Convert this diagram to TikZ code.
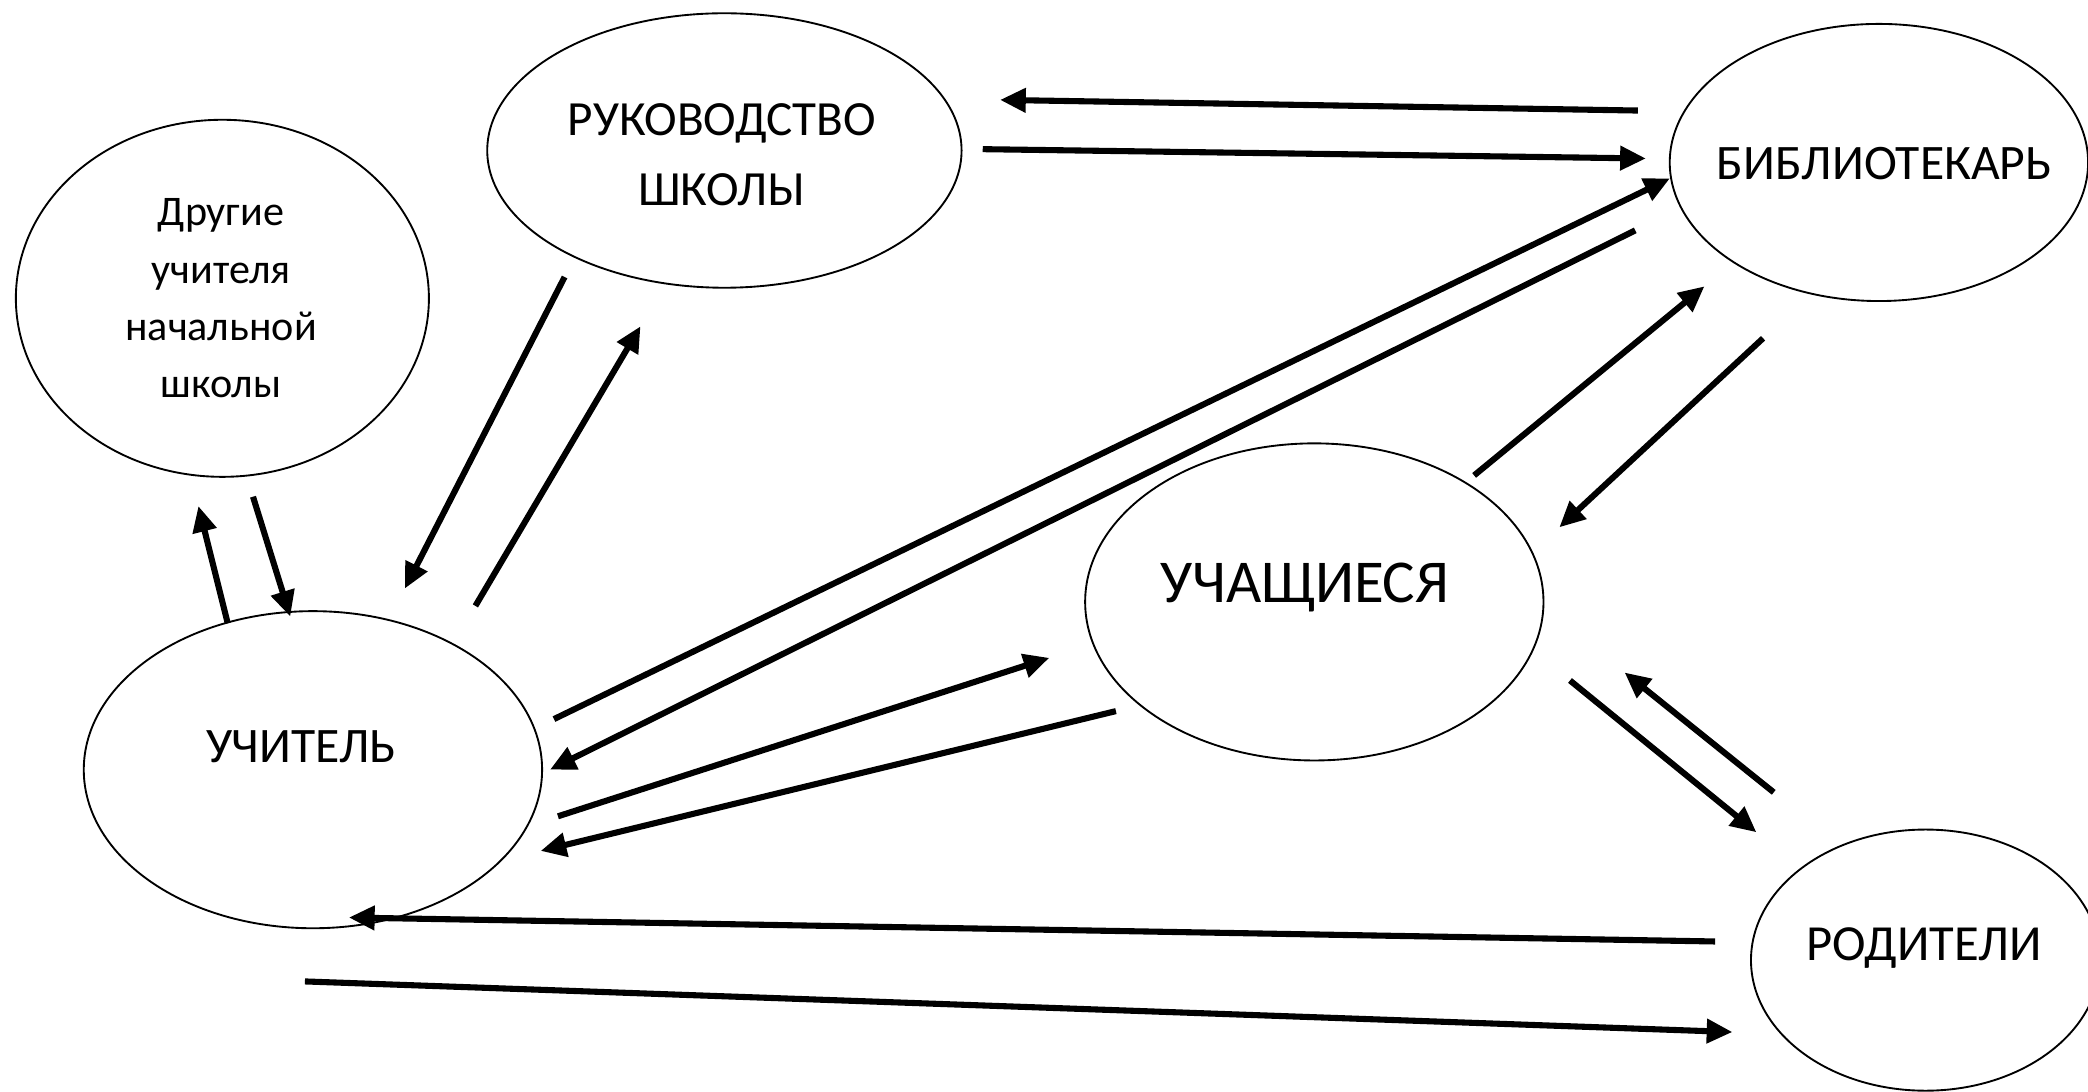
\documentclass[tikz,border=0pt]{standalone}
\usepackage{fontspec}
\setmainfont{Carlito}
\usetikzlibrary{shapes.geometric,arrows.meta}
\begin{document}
\begin{tikzpicture}[x=0.01cm,y=-0.01cm,
  ell/.style={draw,ellipse,line width=0.4pt,inner sep=0pt},
  lab/.style={align=center,inner sep=0pt},
  conn/.style={line width=1.3pt,-{Triangle[length=5.5pt,width=5pt]}}]
\useasboundingbox[fill=white] (0,0) rectangle (1568,820);
% ellipses
\node[ell,minimum width=3.10cm,minimum height=2.68cm] (dr) at (167,224) {};
\node[ell,minimum width=3.56cm,minimum height=2.06cm] (ruk) at (544,113) {};
\node[ell,minimum width=3.14cm,minimum height=2.08cm] (bib) at (1411,122) {};
\node[ell,minimum width=3.44cm,minimum height=2.38cm] (uchs) at (987,452) {};
\node[ell,minimum width=3.44cm,minimum height=2.38cm] (uchit) at (235,578) {};
\node[ell,minimum width=2.62cm,minimum height=1.96cm] (rod) at (1446,721) {};
% labels
\node[lab,font=\fontsize{9}{12.2}\selectfont] (drT) at (166,224) {Другие\\учителя\\начальной\\школы};
\node[lab,font=\fontsize{10.5}{15}\selectfont] (rukT) at (542,116) {РУКОВОДСТВО\\ШКОЛЫ};
\node[lab,font=\fontsize{10.6}{12}\selectfont] (bibT) at (1415,123) {БИБЛИОТЕКАРЬ};
\node[lab,font=\fontsize{13}{15}\selectfont] (uchsT) at (980,441) {УЧАЩИЕСЯ};
\node[lab,font=\fontsize{10.6}{12}\selectfont] (uchitT) at (226,561) {УЧИТЕЛЬ};
\node[lab,font=\fontsize{10.8}{13}\selectfont] (rodT) at (1445,712) {РОДИТЕЛИ};
% connector end points
\coordinate (a1) at (1230,83);  \coordinate (b1) at (751,75);
\coordinate (a2) at (738,112);  \coordinate (b2) at (1236,119);
\coordinate (a3) at (416,540);  \coordinate (b3) at (1254,134);
\coordinate (a4) at (1228,173); \coordinate (b4) at (413,578);
\coordinate (a5) at (1107,357); \coordinate (b5) at (1280,215);
\coordinate (a6) at (1324,254); \coordinate (b6) at (1171,396);
\coordinate (a7) at (424,208);  \coordinate (b7) at (304,442);
\coordinate (a8) at (357,455);  \coordinate (b8) at (481,245);
\coordinate (a9) at (171,468);  \coordinate (b9) at (149,380);
\coordinate (a10) at (190,373); \coordinate (b10) at (218,463);
\coordinate (a11) at (419,613); \coordinate (b11) at (788,494);
\coordinate (a12) at (838,534); \coordinate (b12) at (406,639);
\coordinate (a13) at (1179,511); \coordinate (b13) at (1319,625);
\coordinate (a14) at (1332,595); \coordinate (b14) at (1220,505);
\coordinate (a15) at (1288,707); \coordinate (b15) at (262,689);
\coordinate (a16) at (229,737); \coordinate (b16) at (1301,775);
\foreach \i in {1,...,16} {\draw[conn] (a\i) -- (b\i);}
\end{tikzpicture}
\end{document}
